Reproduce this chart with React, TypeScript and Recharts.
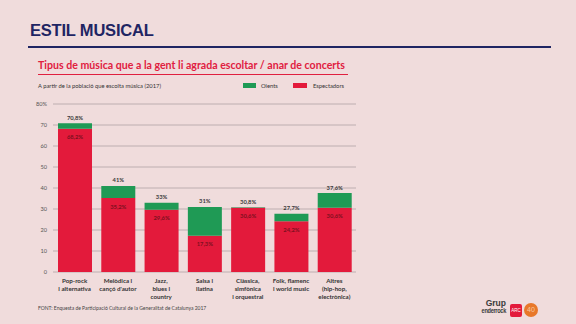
import React from 'react';
import { BarChart, Bar, XAxis, YAxis, CartesianGrid, LabelList } from 'recharts';

if (typeof document !== 'undefined') document.body.style.margin = '0';

const categories = [
  'Pop-rock|i alternativa',
  "Melòdica i|cançó d'autor",
  'Jazz,|blues i|country',
  'Salsa i|llatina',
  'Clàssica,|simfònica|i orquestral',
  'Folk, flamenc|i world music',
  'Altres|(hip-hop,|electrònica)',
];
const oients = [70.8, 41, 33, 31, 30.8, 27.7, 37.6];
const espectadors = [68.2, 35.2, 29.6, 17.3, 30.6, 24.2, 30.6];
const yTicks = [0, 10, 20, 30, 40, 50, 60, 70, 80];

const data = categories.map((c, i) => ({
  cat: c,
  esp: espectadors[i],
  rest: +(oients[i] - espectadors[i]).toFixed(1),
  total: oients[i],
}));

const RED = '#e31a3b';
const GREEN = '#1f9a55';
const BG = '#f0dcdc';
const NAVY = '#1f2563';
const FONT = 'Lato, "Open Sans", sans-serif';

const fmt = (v: number) => String(v).replace('.', ',') + '%';

const TotalLabel = (p: any) => {
  const { x, y, width, value } = p;
  return (
    <text x={x + width / 2} y={y - 6} textAnchor="middle" dominantBaseline="central"
      fontSize={5.8} fontWeight={700} fill="#3a3a3a" fontFamily={FONT}>
      {fmt(value)}
    </text>
  );
};

const InnerLabel = (p: any) => {
  const { x, y, width, value } = p;
  return (
    <text x={x + width / 2} y={y + 8} textAnchor="middle" dominantBaseline="central"
      fontSize={5.8} fontWeight={700} fill="#7e1020" fontFamily={FONT}>
      {fmt(value)}
    </text>
  );
};

const XTick = (p: any) => {
  const { x, y, payload } = p;
  const lines = String(payload.value).split('|');
  return (
    <text x={x} y={y} textAnchor="middle" fontSize={6.2} fontWeight={700} fill="#333" fontFamily={FONT}>
      {lines.map((l, i) => (
        <tspan key={i} x={x} y={y + 11 + i * 8.2}>{l}</tspan>
      ))}
    </text>
  );
};

export default function App() {
  return (
    <div style={{ position: 'relative', width: 576, height: 324, background: BG, overflow: 'hidden', fontFamily: FONT }}>
      <div style={{ position: 'absolute', left: 30, top: 21, fontFamily: '"Liberation Sans", Arial, sans-serif', fontWeight: 700, fontSize: 16.5, color: NAVY, letterSpacing: -0.2 }}>
        ESTIL MUSICAL
      </div>
      <div style={{ position: 'absolute', left: 28, top: 45.5, width: 523, height: 2, background: NAVY }} />
      <div style={{ position: 'absolute', left: 38, top: 59, fontWeight: 700, fontSize: 10.6, color: '#e0203f', whiteSpace: 'nowrap' }}>
        Tipus de música que a la gent li agrada escoltar / anar de concerts
      </div>
      <div style={{ position: 'absolute', left: 38, top: 74, width: 310, height: 1, background: '#e0203f' }} />
      <div style={{ position: 'absolute', left: 38, top: 82, fontSize: 5.8, color: '#333', whiteSpace: 'nowrap' }}>
        A partir de la població que escolta música (2017)
      </div>
      <div style={{ position: 'absolute', left: 243, top: 83, width: 13, height: 4.5, background: GREEN }} />
      <div style={{ position: 'absolute', left: 261, top: 81.5, fontSize: 5.8, color: '#333' }}>Oients</div>
      <div style={{ position: 'absolute', left: 293, top: 83, width: 14, height: 4.5, background: RED }} />
      <div style={{ position: 'absolute', left: 313, top: 81.5, fontSize: 5.8, color: '#333' }}>Espectadors</div>

      <div style={{ position: 'absolute', left: 0, top: 0 }}>
        <BarChart width={576} height={324} data={data}
          margin={{ top: 104, right: 220, bottom: 12, left: 33 }}>
          <CartesianGrid vertical={false} stroke="#b0a2a5" strokeWidth={0.8} />
          <YAxis domain={[0, 80]} ticks={yTicks} width={20} axisLine={false} tickLine={false}
            tickSize={0} tickMargin={6} interval={0}
            tick={{ fontSize: 5.6, fill: '#555', fontFamily: FONT }}
            tickFormatter={(v: number) => (v === 80 ? '80%' : String(v))} />
          <XAxis dataKey="cat" axisLine={false} tickLine={false} tickSize={0} tickMargin={0}
            height={40} interval={0} tick={<XTick />} />
          <Bar dataKey="esp" stackId="a" fill={RED} barSize={34} isAnimationActive={false}>
            <LabelList dataKey="esp" content={<InnerLabel />} />
          </Bar>
          <Bar dataKey="rest" stackId="a" fill={GREEN} barSize={34} isAnimationActive={false}>
            <LabelList dataKey="total" content={<TotalLabel />} />
          </Bar>
        </BarChart>
      </div>

      <div style={{ position: 'absolute', left: 38, top: 305, fontSize: 5, color: '#444', whiteSpace: 'nowrap' }}>
        FONT: Enquesta de Participació Cultural de la Generalitat de Catalunya 2017
      </div>

      <div style={{ position: 'absolute', left: 470, top: 300, width: 36, textAlign: 'right', fontFamily: '"Liberation Sans", Arial, sans-serif', fontWeight: 700, color: '#3a3a3a', lineHeight: '7px' }}>
        <div style={{ fontSize: 8.5 }}>Grup</div>
        <div style={{ fontSize: 6.6, letterSpacing: -0.35, whiteSpace: 'nowrap', transform: 'scaleX(0.85)', transformOrigin: 'right center' }}>enderrock</div>
      </div>
      <div style={{ position: 'absolute', left: 510, top: 304, width: 12, height: 13, borderRadius: 2, background: RED, color: '#fff', fontSize: 4.5, fontFamily: '"Liberation Sans", sans-serif', textAlign: 'center', lineHeight: '13px' }}>
        ARC
      </div>
      <div style={{ position: 'absolute', left: 524, top: 303, width: 14, height: 14, borderRadius: 7, background: '#e8782a', color: '#f7c9a0', fontSize: 7, fontFamily: '"Liberation Sans", sans-serif', textAlign: 'center', lineHeight: '14px' }}>
        40
      </div>
    </div>
  );
}
